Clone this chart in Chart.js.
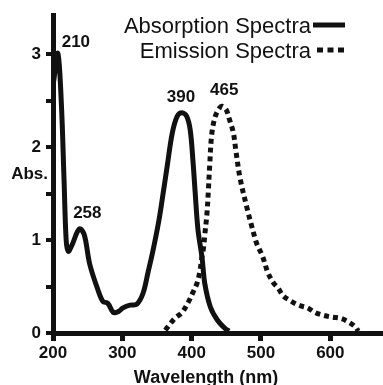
<!DOCTYPE html>
<html>
<head>
<meta charset="utf-8">
<script src="https://cdn.jsdelivr.net/npm/chart.js@4.4.1/dist/chart.umd.min.js"></script>
<style>
  html, body { margin: 0; padding: 0; background: #fff; }
  #wrap { width: 383px; height: 385px; position: relative; }
</style>
</head>
<body>
<div id="wrap"><canvas id="grafica"></canvas></div>
<script>
// longitud de onda (nm) y absorbancia
const absWave = [201,207,212,216,219,222,227,238,245,253,265,272,279,287,294,301,311,321,330,337,344,352,357,365,372,379,386,393,398,402,405,409,415,419,427,437,448,454];
const absVal  = [2.71,3.01,2.48,1.63,1.00,0.88,0.94,1.12,1.06,0.74,0.46,0.34,0.32,0.22,0.23,0.27,0.30,0.31,0.43,0.65,0.88,1.18,1.41,1.81,2.15,2.33,2.37,2.33,2.18,1.84,1.52,1.12,0.81,0.53,0.28,0.14,0.05,0.02];

const emWave = [362,365,376,386,395,402,408,412,414,417,419,422,424,426,429,434,440,444,450,454,460,464,470,480,487,494,502,510,518,525,532,542,554,567,578,590,603,614,626,637,640];
const emVal  = [0.03,0.06,0.16,0.22,0.33,0.44,0.54,0.67,0.78,0.91,1.06,1.28,1.52,1.80,2.14,2.33,2.42,2.44,2.40,2.31,2.16,1.95,1.66,1.34,1.14,0.96,0.83,0.65,0.54,0.48,0.40,0.35,0.30,0.27,0.22,0.19,0.17,0.16,0.12,0.06,0.02];

// picos anotados
const absPeakIdx  = [1, 7, 26];
const absPeakText = ["210", "258", "390"];
const emPeakIdx   = [17];
const emPeakText  = ["465"];

const xTicks      = [200, 300, 400, 500, 600];
const xTickLabels = ["200", "300", "400", "500", "600"];
const yTicks      = [0, 0.5, 1, 1.5, 2, 2.5, 3];
const yTickLabels = ["0", "", "1", "", "2", "", "3"];

const seriesNames = ["Absorption Spectra", "Emission Spectra"];

const NEGRO = "#111";
const FUENTE = '"Liberation Sans", Arial, sans-serif';

const desplazPico = { "210": [18, -11], "258": [8, -16], "390": [-1, -15], "465": [2, -16] };

const decoracion = {
  id: "decoracion",
  afterDatasetsDraw(chart) {
    const { ctx, chartArea: a } = chart;
    ctx.save();
    ctx.fillStyle = NEGRO;

    // etiquetas de los picos
    ctx.font = `bold 17px ${FUENTE}`;
    ctx.textAlign = "center";
    ctx.textBaseline = "middle";
    [[0, absPeakIdx, absPeakText], [1, emPeakIdx, emPeakText]].forEach(([d, idxs, textos]) => {
      const meta = chart.getDatasetMeta(d);
      idxs.forEach((i, k) => {
        const p = meta.data[i];
        const [dx, dy] = desplazPico[textos[k]] || [0, -16];
        ctx.fillText(textos[k], p.x + dx, p.y + dy);
      });
    });

    // títulos de ejes
    ctx.textAlign = "right";
    ctx.fillText("Abs.", a.left - 5, (a.top + a.bottom) / 2);
    ctx.font = `bold 18px ${FUENTE}`;
    ctx.textAlign = "center";
    ctx.textBaseline = "alphabetic";
    ctx.fillText("Wavelength (nm)", (a.left + a.right) / 2 - 12, 383);

    // leyenda: texto a la izquierda, muestra de línea a la derecha
    ctx.font = `22px ${FUENTE}`;
    ctx.textAlign = "right";
    chart.data.datasets.forEach((ds, i) => {
      const base = 33 + i * 25;
      ctx.fillText(ds.label, 311, base);
      ctx.beginPath();
      ctx.lineWidth = 5;
      ctx.strokeStyle = NEGRO;
      ctx.setLineDash(i === 0 ? [] : [6, 4.5]);
      ctx.moveTo(i === 0 ? 313 : 317, base - 8);
      ctx.lineTo(345, base - 8);
      ctx.stroke();
    });
    ctx.restore();
  }
};

new Chart(document.getElementById("grafica"), {
  type: "line",
  data: {
    datasets: [
      {
        label: seriesNames[0],
        data: absWave.map((w, i) => ({ x: w, y: absVal[i] })),
        borderColor: NEGRO, borderWidth: 5, pointRadius: 0, tension: 0.35, fill: false
      },
      {
        label: seriesNames[1],
        data: emWave.map((w, i) => ({ x: w, y: emVal[i] })),
        borderColor: NEGRO, borderWidth: 5, borderDash: [5, 4], borderCapStyle: "butt",
        pointRadius: 0, tension: 0.35, fill: false
      }
    ]
  },
  options: {
    responsive: true,
    maintainAspectRatio: false,
    animation: false,
    layout: { padding: { top: 12, left: 0, right: 0, bottom: 0 } },
    plugins: { legend: { display: false }, tooltip: { enabled: false } },
    scales: {
      x: {
        type: "linear", min: 200, max: 676,
        afterBuildTicks: s => { s.ticks = xTicks.map(v => ({ value: v })); },
        afterFit: s => { s.height = 52; },
        grid: { drawOnChartArea: false, drawTicks: true, tickLength: 8, lineWidth: 5, color: NEGRO },
        border: { display: true, width: 5, color: NEGRO },
        ticks: {
          autoSkip: false, maxRotation: 0, padding: 2, color: NEGRO,
          font: { family: FUENTE, size: 17, weight: "bold" },
          callback: v => xTickLabels[xTicks.indexOf(v)]
        }
      },
      y: {
        min: 0, max: 3.42,
        afterBuildTicks: s => { s.ticks = yTicks.map(v => ({ value: v })); },
        afterFit: s => { s.width = 53; },
        grid: { drawOnChartArea: false, drawTicks: true, tickLength: 7, lineWidth: 4, color: NEGRO },
        border: { display: true, width: 5, color: NEGRO },
        ticks: {
          autoSkip: false, padding: 5, color: NEGRO,
          font: { family: FUENTE, size: 17, weight: "bold" },
          callback: v => yTickLabels[yTicks.indexOf(v)]
        }
      }
    }
  },
  plugins: [decoracion]
});
</script>
</body>
</html>
